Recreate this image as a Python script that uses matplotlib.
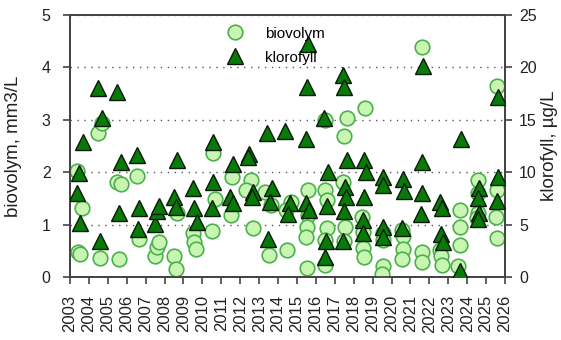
import matplotlib
matplotlib.use('Agg')
import matplotlib.pyplot as plt
from matplotlib.lines import Line2D

plt.rcParams['font.family'] = ['Liberation Sans', 'DejaVu Sans']

# biovolym (mm3/L), provtagningsdatum som decimalår
bio_date = [2003.37, 2003.63, 2003.42, 2003.53,
            2004.48, 2004.69, 2004.59,
            2005.49, 2005.70, 2005.59,
            2006.54, 2006.65,
            2007.49, 2007.60, 2007.71,
            2008.50, 2008.60, 2008.66,
            2009.50, 2009.56, 2009.66,
            2010.51, 2010.56, 2010.67,
            2011.57, 2011.51,
            2012.57, 2012.31, 2012.68,
            2013.31, 2013.63, 2013.52,
            2014.47, 2014.69, 2014.42,
            2015.58, 2015.58, 2015.53, 2015.48, 2015.53,
            2016.48, 2016.48, 2016.59, 2016.59, 2016.48, 2016.48,
            2017.65, 2017.49, 2017.43, 2017.54, 2017.49,
            2018.60, 2018.44, 2018.49, 2018.49, 2018.55,
            2019.55, 2019.55, 2019.55, 2019.50,
            2020.55, 2020.61, 2020.61, 2020.55,
            2021.61, 2021.61, 2021.61,
            2022.56, 2022.62, 2022.67,
            2023.62, 2023.62, 2023.62, 2023.52,
            2024.57, 2024.57, 2024.57, 2024.52,
            2025.58, 2025.58, 2025.52, 2025.58]
biovolym = [2.02, 1.32, 0.48, 0.44,
            2.75, 2.94, 0.36,
            1.81, 1.77, 0.34,
            1.93, 0.73,
            0.40, 0.57, 0.67,
            0.40, 0.15, 1.22,
            0.84, 0.67, 0.53,
            0.88, 2.37, 1.49,
            1.91, 1.18,
            1.85, 1.66, 0.94,
            1.62, 1.37, 0.42,
            0.52, 1.43, 1.28,
            1.66, 1.18, 0.95, 0.76, 0.17,
            3.00, 1.66, 1.47, 0.94, 0.71, 0.23,
            3.03, 2.69, 1.81, 0.95, 0.69,
            3.23, 1.15, 0.86, 0.55, 0.38,
            0.84, 0.71, 0.21, 0.06,
            0.90, 0.78, 0.53, 0.34,
            4.39, 0.48, 0.29,
            0.52, 0.40, 0.23,
            1.28, 0.95, 0.61, 0.21,
            1.85, 1.60, 1.22, 1.13,
            3.65, 1.66, 1.15, 0.74]

# klorofyll (µg/L)
klo_date = [2003.69, 2003.48, 2003.37, 2003.53,
            2004.48, 2004.69, 2004.59,
            2005.49, 2005.70, 2005.59,
            2006.54, 2006.65, 2006.60,
            2007.49, 2007.60, 2007.71,
            2008.50, 2008.60, 2008.66,
            2009.50, 2009.56, 2009.71,
            2010.56, 2010.56, 2010.51,
            2011.62, 2011.46, 2011.62,
            2012.46, 2012.41, 2012.68, 2012.62,
            2013.42, 2013.68, 2013.57, 2013.47,
            2014.37, 2014.63, 2014.53,
            2015.58, 2015.53, 2015.48, 2015.48, 2015.64,
            2016.43, 2016.64, 2016.59, 2016.54, 2016.48,
            2017.43, 2017.49, 2017.65, 2017.54, 2017.59, 2017.49, 2017.43,
            2018.55, 2018.65, 2018.55, 2018.49, 2018.49,
            2019.55, 2019.55, 2019.55, 2019.55,
            2020.61, 2020.66, 2020.55,
            2021.66, 2021.61, 2021.61, 2021.56,
            2022.56, 2022.67, 2022.62, 2022.72,
            2023.67, 2023.62,
            2024.63, 2024.57, 2024.63, 2024.57,
            2025.63, 2025.63, 2025.58]
klorofyll = [12.9, 9.9, 8.0, 5.2,
             18.0, 15.2, 3.4,
             17.7, 11.0, 6.1,
             11.6, 6.6, 4.6,
             5.1, 6.3, 6.8,
             7.6, 6.7, 11.2,
             8.5, 6.6, 5.3,
             12.9, 9.1, 6.6,
             10.8, 7.6, 7.1,
             11.7, 11.5, 8.1, 7.6,
             13.7, 8.5, 7.2, 3.6,
             13.9, 7.1, 6.0,
             22.2, 18.1, 13.2, 7.1, 6.4,
             15.2, 10.0, 6.8, 3.4, 1.9,
             19.3, 18.1, 11.2, 8.6, 7.6, 6.3, 3.4,
             11.2, 10.0, 7.6, 5.4, 4.2,
             9.5, 8.8, 4.8, 3.8,
             9.4, 8.2, 4.7,
             20.1, 11.0, 8.0, 6.0,
             7.2, 6.6, 4.1, 3.3,
             13.2, 0.6,
             8.5, 7.5, 6.1, 5.5,
             17.2, 9.5, 7.3]

years = list(range(2003, 2027))

fig = plt.figure(figsize=(5.61, 3.40), dpi=100)
ax = fig.add_axes([0.1248, 0.185, 0.7754, 0.771])
ax2 = ax.twinx()

ax.plot(bio_date, biovolym, 'o', ms=10.5, mfc='#c9f5b3', mec='#4cb04c', mew=1.2, zorder=3)
ax2.plot(klo_date, klorofyll, '^', ms=11, mfc='#087a08', mec='#0a1a0a', mew=1.0, zorder=3)

ax.set_xlim(2003, 2026)
ax.set_ylim(0, 5)
ax2.set_ylim(0, 25)
ax.set_xticks(years)
ax.set_xticklabels([str(y) for y in years], rotation=90)
ax.set_yticks([0, 1, 2, 3, 4, 5])
ax2.set_yticks([0, 5, 10, 15, 20, 25])

ax.yaxis.grid(True, linestyle=(0, (1, 4)), color='#555555', linewidth=1.0)
ax.set_axisbelow(True)

for a in (ax, ax2):
    for s in a.spines.values():
        s.set_color('#444444')
        s.set_linewidth(1.3)
    a.tick_params(direction='out', length=5, width=1.2, color='#444444',
                  labelsize=11.5, labelcolor='#222222')
ax.tick_params(axis='y', pad=9)
ax.tick_params(axis='x', pad=8, labelsize=12)
ax2.tick_params(axis='y', pad=5)

ax.set_ylabel('biovolym, mm3/L', fontsize=13.5, color='#222222', labelpad=14)
ax2.set_ylabel('klorofyll, µg/L', fontsize=13.5, color='#222222', labelpad=3)

handles = [Line2D([], [], ls='none', marker='o', ms=10.5, mfc='#c9f5b3', mec='#4cb04c', mew=1.2),
           Line2D([], [], ls='none', marker='^', ms=11, mfc='#087a08', mec='#0a1a0a', mew=1.0)]
ax2.legend(handles, ['biovolym', 'klorofyll'], loc='upper left', bbox_to_anchor=(0.322, 0.99),
           frameon=False, fontsize=11, handletextpad=1.0, labelspacing=0.65, borderaxespad=0.2)

fig.savefig('out.png', dpi=100)
